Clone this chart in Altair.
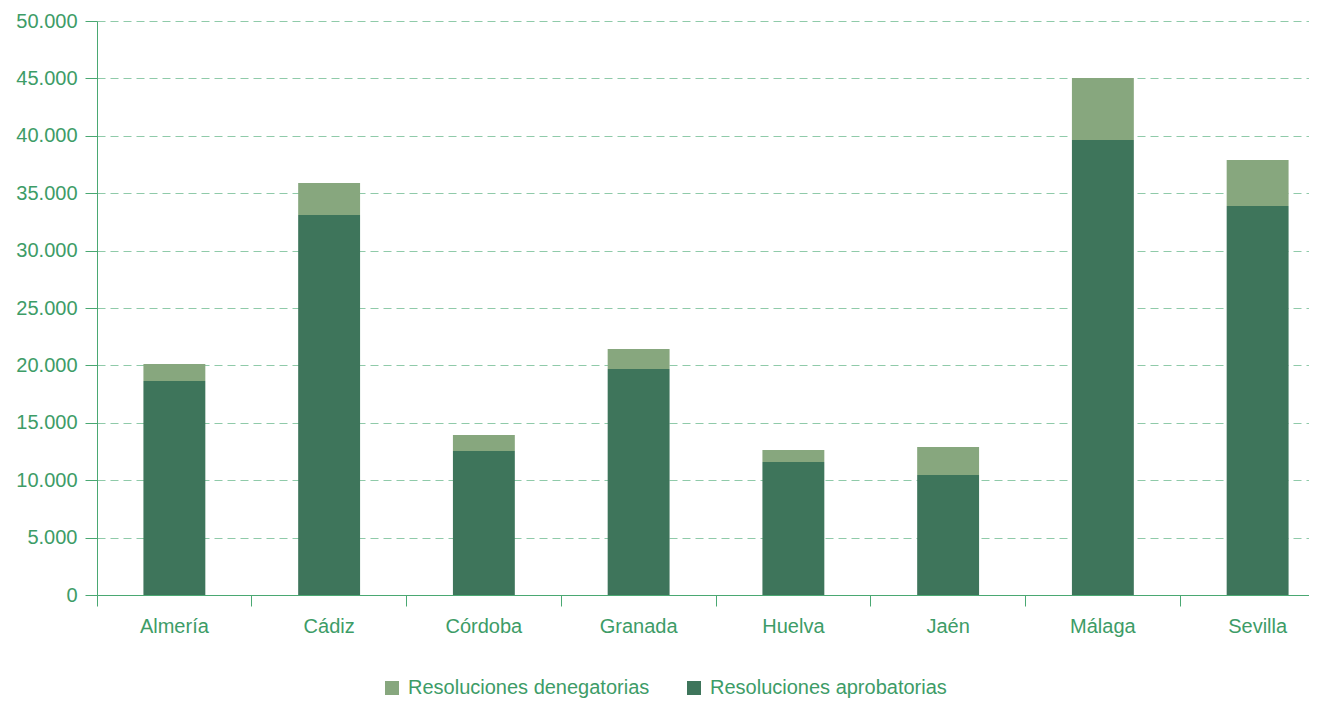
import altair as alt
import pandas as pd

provincias = ["Almería", "Cádiz", "Córdoba", "Granada", "Huelva", "Jaén", "Málaga", "Sevilla"]
aprobatorias = [18640, 33100, 12540, 19690, 11590, 10450, 39630, 33890]
denegatorias = [1480, 2790, 1400, 1740, 1040, 2440, 5400, 4000]
series = ["Resoluciones denegatorias", "Resoluciones aprobatorias"]
colores = ["#87a77e", "#3e755b"]

rows = []
for p, a, d in zip(provincias, aprobatorias, denegatorias):
    rows.append({"prov": p, "serie": series[1], "valor": a, "orden": 0})
    rows.append({"prov": p, "serie": series[0], "valor": d, "orden": 1})
df = pd.DataFrame(rows)

TXT = "#3d9c67"
FONT = "Liberation Sans"

chart = alt.Chart(df).mark_bar(width=alt.RelativeBandSize(0.4)).encode(
    x=alt.X("prov:N", sort=provincias, title=None,
            scale=alt.Scale(paddingInner=0, paddingOuter=0),
            axis=alt.Axis(labelAngle=0, bandPosition=0, tickSize=11, labelPadding=10,
                          domainColor="#4aa872", tickColor="#4aa872", labelColor=TXT,
                          labelFontSize=20, labelFont=FONT, grid=False)),
    y=alt.Y("valor:Q", stack="zero", title=None,
            scale=alt.Scale(domain=[0, 50000]),
            axis=alt.Axis(values=list(range(0, 50001, 5000)),
                          labelExpr="replace(format(datum.value, ','), ',', '.')",
                          tickSize=12, labelPadding=8, domainColor="#4aa872",
                          tickColor="#4aa872", labelColor=TXT, labelFontSize=20,
                          labelFont=FONT, grid=True, gridColor="#8fcaa9",
                          gridDash=[8, 5], gridWidth=1.2)),
    color=alt.Color("serie:N", sort=series, title=None,
                    scale=alt.Scale(domain=series, range=colores),
                    legend=alt.Legend(orient="none", legendX=285, legendY=657,
                                      direction="horizontal", symbolType="square",
                                      symbolSize=196, symbolStrokeWidth=0,
                                      labelFontSize=20, labelFont=FONT, labelColor=TXT,
                                      labelLimit=0, labelOffset=6, columnPadding=34)),
    order=alt.Order("orden:Q"),
).properties(
    width=1238, height=574,
    autosize=alt.AutoSizeParams(type="none"),
    padding={"left": 89, "top": 13, "right": -26, "bottom": 104},
).configure_view(stroke=None)

chart.save("out.html", embed_options={"renderer": "svg", "actions": False})
